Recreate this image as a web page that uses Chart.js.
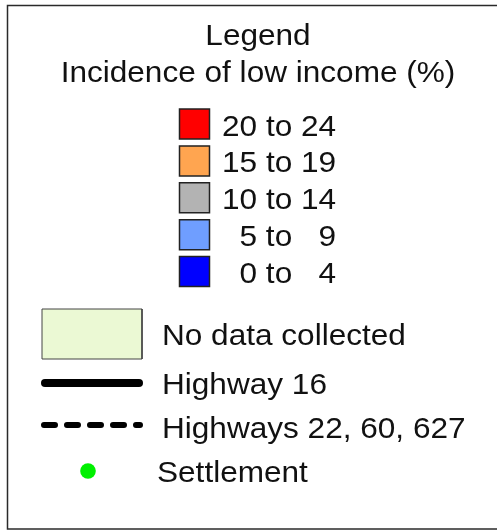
<!DOCTYPE html>
<html>
<head>
<meta charset="utf-8">
<title>Legend – Incidence of low income</title>
<script src="https://cdn.jsdelivr.net/npm/chart.js@4/dist/chart.umd.min.js"></script>
<style>
  html, body { margin: 0; padding: 0; background: #fff; }
  #legend-chart { display: block; }
</style>
</head>
<body>
<canvas id="legend-chart" width="497" height="531"></canvas>
<script>
// ─────────────────────────────────────────────────────────────
// Map legend: incidence of low income, drawn as a Chart.js scatter
// ─────────────────────────────────────────────────────────────

// ── Data ─────────────────────────────────────────────────────
const titleLines   = ['Legend', 'Incidence of low income (%)'];
const bandLow      = [20, 15, 10, 5, 0];
const bandHigh     = [24, 19, 14, 9, 4];
const bandColors   = ['#ff0000', '#ffa550', '#b3b3b3', '#6f9eff', '#0000ff'];
const noDataLabel  = 'No data collected';
const noDataColor  = '#ebf9d4';
const roadLabels   = ['Highway 16', 'Highways 22, 60, 627'];
const roadWidths   = [8, 6];
const roadDashes   = [[], [11, 12]];
const placeLabel   = 'Settlement';
const placeColor   = '#00f000';

// ── Layout (pixels, the hidden axes run 0..497 x 0..531) ─────
const W = 497, H = 531;
const layout = {
  titleX:     258,
  titleY:     [45, 82],
  swatchX:    194.5,
  swatchSide: 30,
  bandTop:    124,
  bandPitch:  36.9,
  bandTextX:  222,
  keyLeft:    42,
  keyRight:   142,
  keyTextX:   162,
  noDataY:    334,
  noDataH:    50,
  roadY:      [383, 425],
  placeX:     88,
  placeY:     471,
  placeTextX: 157,
  baseline:   11,
};

const FONT    = '29.5px "Liberation Sans", Arial, sans-serif';
const STRETCH = 1.07;   // reference text is slightly wide

// "  5 to   9" style — two-digit slots padded with two spaces per digit
const pad = (n) => (n < 10 ? '  ' : '') + n;
const bandLabels = bandLow.map((lo, i) => pad(lo) + ' to ' + pad(bandHigh[i]));
const bandY = (i) => layout.bandTop + i * layout.bandPitch;

// ── Text + frame plugin ──────────────────────────────────────
const legendText = {
  id: 'legendText',
  beforeDraw(chart) {
    const ctx = chart.ctx;
    ctx.save();
    ctx.strokeStyle = '#2a2a2a';
    ctx.lineWidth = 1.5;
    ctx.strokeRect(7.5, 5.5, W + 20, 523.5);
    ctx.restore();
  },
  afterDatasetsDraw(chart) {
    const { ctx, scales: { x, y } } = chart;
    const put = (text, vx, vy, align) => {
      ctx.save();
      ctx.translate(x.getPixelForValue(vx), y.getPixelForValue(vy));
      ctx.scale(STRETCH, 1);
      ctx.textAlign = align || 'left';
      ctx.fillText(text, 0, 0);
      ctx.restore();
    };
    ctx.save();
    ctx.font = FONT;
    ctx.fillStyle = '#111';
    ctx.textBaseline = 'alphabetic';

    titleLines.forEach((t, i) => put(t, layout.titleX, layout.titleY[i], 'center'));
    bandLabels.forEach((t, i) => put(t, layout.bandTextX, bandY(i) + layout.baseline + 0.5));
    put(noDataLabel, layout.keyTextX, layout.noDataY + layout.baseline);
    put(roadLabels[0], layout.keyTextX, layout.roadY[0] + layout.baseline);
    put(roadLabels[1], layout.keyTextX, layout.roadY[1] + layout.baseline + 2);
    put(placeLabel, layout.placeTextX, layout.placeY + layout.baseline);
    ctx.restore();
  }
};

// ── Datasets ─────────────────────────────────────────────────
const boxTop = layout.noDataY - layout.noDataH / 2;
const boxBot = layout.noDataY + layout.noDataH / 2;

const datasets = [
  {
    label: 'Incidence of low income',
    data: bandLabels.map((_, i) => ({ x: layout.swatchX, y: bandY(i) })),
    pointStyle: 'rect',
    pointRadius: (layout.swatchSide / 2) / Math.SQRT1_2,
    backgroundColor: bandColors,
    borderColor: '#222',
    borderWidth: 1.5,
  },
  {
    label: noDataLabel,
    data: [
      { x: layout.keyLeft,  y: boxTop }, { x: layout.keyRight, y: boxTop },
      { x: layout.keyRight, y: boxBot }, { x: layout.keyLeft,  y: boxBot },
      { x: layout.keyLeft,  y: boxTop },
    ],
    showLine: true,
    fill: 'shape',
    backgroundColor: noDataColor,
    borderColor: '#444',
    borderWidth: 1,
    pointRadius: 0,
  },
];

roadLabels.forEach((name, i) => {
  const inset = roadWidths[i] / 2 - 1;
  datasets.push({
    label: name,
    data: [
      { x: layout.keyLeft + inset,  y: layout.roadY[i] },
      { x: layout.keyRight - inset, y: layout.roadY[i] },
    ],
    showLine: true,
    borderColor: '#000',
    borderWidth: roadWidths[i],
    borderDash: roadDashes[i],
    borderCapStyle: 'round',
    pointRadius: 0,
  });
});

datasets.push({
  label: placeLabel,
  data: [{ x: layout.placeX, y: layout.placeY }],
  pointStyle: 'circle',
  pointRadius: 7.8,
  backgroundColor: placeColor,
  borderWidth: 0,
});

// ── Chart ────────────────────────────────────────────────────
new Chart(document.getElementById('legend-chart').getContext('2d'), {
  type: 'scatter',
  data: { datasets },
  options: {
    responsive: false,
    animation: false,
    devicePixelRatio: 1,
    events: [],
    layout: { padding: 0, autoPadding: false },
    plugins: { legend: { display: false }, tooltip: { enabled: false }, title: { display: false } },
    scales: {
      x: { type: 'linear', min: 0, max: W, display: false },
      y: { type: 'linear', min: 0, max: H, reverse: true, display: false },
    },
  },
  plugins: [legendText],
});
</script>
</body>
</html>
